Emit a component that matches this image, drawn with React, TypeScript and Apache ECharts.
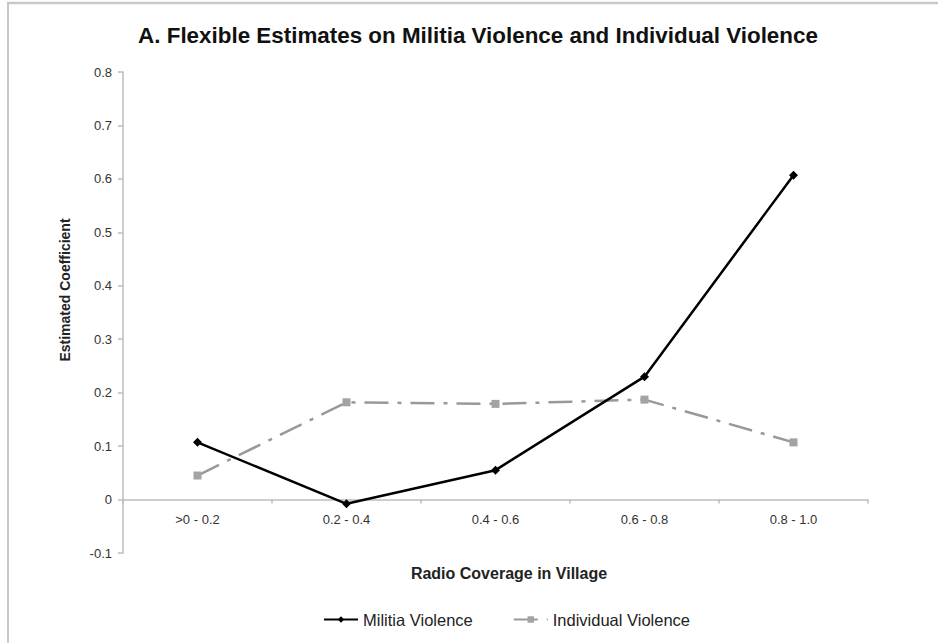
import React, { useEffect, useRef } from "react";
import * as echarts from "echarts";

const categories = [">0 - 0.2", "0.2 - 0.4", "0.4 - 0.6", "0.6 - 0.8", "0.8 - 1.0"];
const militiaViolence = [0.107, -0.008, 0.055, 0.23, 0.607];
const individualViolence = [0.045, 0.182, 0.179, 0.187, 0.107];
const yTicks = { min: -0.1, max: 0.8, interval: 0.1 };

const FONT = "'Liberation Sans', Arial, Helvetica, sans-serif";

export default function App() {
  const ref = useRef<HTMLDivElement>(null);
  useEffect(() => {
    if (!ref.current) return;
    const chart = echarts.init(ref.current, null, { renderer: "svg" });
    const gridTop = 72;
    const gridBottom = 90;
    const plotH = 643 - gridTop - gridBottom;
    const zeroOffset = -plotH * ((0 - yTicks.min) / (yTicks.max - yTicks.min));
    chart.setOption({
      animation: false,
      backgroundColor: "#ffffff",
      textStyle: { fontFamily: FONT },
      title: {
        text: "A. Flexible Estimates on Militia Violence and Individual Violence",
        left: 473,
        top: 19,
        textAlign: "center",
        textStyle: { fontFamily: FONT, fontSize: 22.4, fontWeight: "bold", color: "#111111" },
      },
      grid: { left: 123, right: 70, top: gridTop, bottom: gridBottom, containLabel: false },
      legend: {
        bottom: 10,
        left: 318,
        orient: "horizontal",
        itemWidth: 34,
        itemHeight: 8,
        itemGap: 40,
        textStyle: { fontFamily: FONT, fontSize: 16.5, color: "#222222" },
        data: ["Militia Violence", "Individual Violence"],
      },
      xAxis: {
        type: "category",
        data: categories,
        boundaryGap: true,
        offset: zeroOffset,
        axisLine: { onZero: false, lineStyle: { color: "#bdbdbd", width: 1.5 } },
        axisTick: { show: true, length: 4, lineStyle: { color: "#bdbdbd", width: 1.5 } },
        axisLabel: { fontFamily: FONT, fontSize: 13, color: "#333333", margin: 13 },
        splitLine: { show: false },
      },
      yAxis: {
        type: "value",
        min: yTicks.min,
        max: yTicks.max,
        interval: yTicks.interval,
        axisLine: { show: true, lineStyle: { color: "#bdbdbd", width: 1.5 } },
        axisTick: { show: true, length: 5, lineStyle: { color: "#bdbdbd", width: 1.5 } },
        axisLabel: {
          fontFamily: FONT,
          fontSize: 13,
          color: "#333333",
          margin: 11,
          formatter: (v: number) => String(Number(v.toFixed(1))),
        },
        splitLine: { show: false },
      },
      graphic: [
        {
          type: "line",
          shape: { x1: 7, y1: 3, x2: 938, y2: 3 },
          style: { stroke: "#c8c8c8", lineWidth: 2.5 },
          silent: true,
        },
        {
          type: "line",
          shape: { x1: 8, y1: 3, x2: 8, y2: 643 },
          style: { stroke: "#c8c8c8", lineWidth: 2 },
          silent: true,
        },
        {
          type: "text",
          x: 65,
          y: 290,
          rotation: Math.PI / 2,
          style: {
            text: "Estimated Coefficient",
            fontFamily: FONT,
            fontSize: 14,
            fontWeight: "bold",
            fill: "#222222",
            align: "center",
            verticalAlign: "middle",
          },
        },
        {
          type: "text",
          x: 509,
          y: 573,
          style: {
            text: "Radio Coverage in Village",
            fontFamily: FONT,
            fontSize: 16,
            fontWeight: "bold",
            fill: "#222222",
            align: "center",
            verticalAlign: "middle",
          },
        },
      ],
      series: [
        {
          name: "Militia Violence",
          type: "line",
          data: militiaViolence,
          symbol: "diamond",
          symbolSize: 9,
          showAllSymbol: true,
          itemStyle: { color: "#000000" },
          lineStyle: { color: "#000000", width: 2.5 },
          z: 3,
        },
        {
          name: "Individual Violence",
          type: "line",
          data: individualViolence,
          symbol: "rect",
          symbolSize: 8,
          showAllSymbol: true,
          itemStyle: { color: "#a3a3a3" },
          lineStyle: { color: "#999999", width: 2.5, type: [24, 9, 4, 9] },
          z: 2,
        },
      ],
    });
    return () => chart.dispose();
  }, []);
  return (
    <div
      ref={ref}
      style={{ position: "fixed", left: 0, top: 0, width: 938, height: 643 }}
    />
  );
}
